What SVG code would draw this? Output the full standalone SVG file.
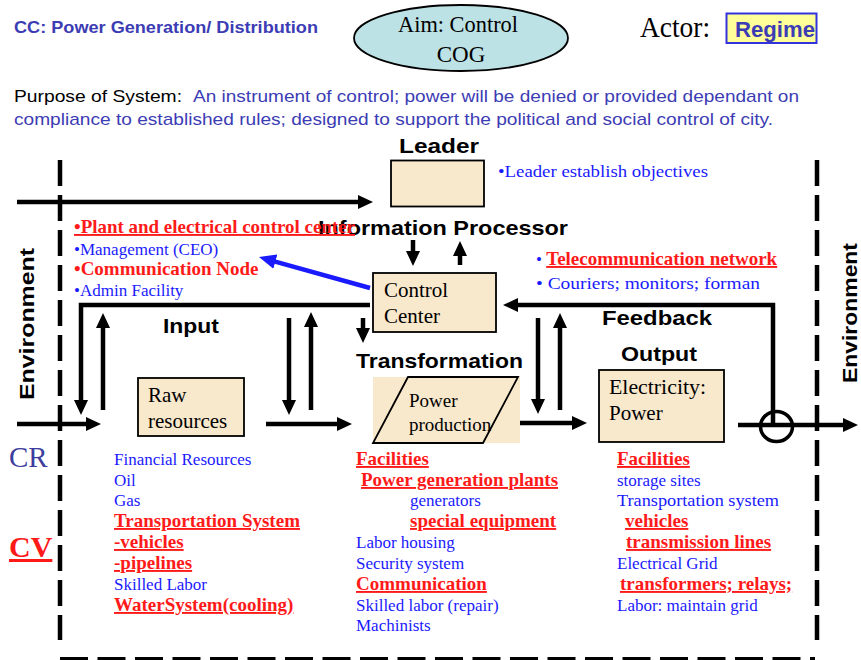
<svg xmlns="http://www.w3.org/2000/svg" width="861" height="660" viewBox="0 0 861 660">
<style>
.sans{font-family:"Liberation Sans",Arial,sans-serif}
.serif{font-family:"Liberation Serif","Times New Roman",serif}
.hd{font-family:"Liberation Sans",Arial,sans-serif;font-weight:bold;font-size:21px;fill:#000}
.box{fill:#f8e8cc;stroke:#000;stroke-width:1.8}
.bt{font-family:"Liberation Serif","Times New Roman",serif;font-size:21px;fill:#000}
.li{font-family:"Liberation Serif","Times New Roman",serif;font-size:17px;fill:#1a1aff}
.lr{font-family:"Liberation Serif","Times New Roman",serif;font-size:19px;fill:#ff1a1a;font-weight:bold;text-decoration:underline}
.ln{fill:none;stroke:#000;stroke-width:4.5}
.dash{fill:none;stroke:#000;stroke-width:4.5;stroke-dasharray:26 9}
.pb{fill:#3c3cb4}
</style>
<defs>
<marker id="ah" viewBox="0 0 15 14" refX="3" refY="7" markerWidth="15" markerHeight="14" markerUnits="userSpaceOnUse" orient="auto"><path d="M0,0 L15,7 L0,14 z" fill="#000"/></marker>
<marker id="ahb" viewBox="0 0 17 15" refX="3" refY="7.5" markerWidth="17" markerHeight="15" markerUnits="userSpaceOnUse" orient="auto"><path d="M0,0 L17,7.5 L0,15 z" fill="#1a1aff"/></marker>
</defs>
<rect width="861" height="660" fill="#fff"/>

<g id="header">
<text class="sans pb" x="14" y="33" font-size="16.5" font-weight="bold" textLength="304" lengthAdjust="spacingAndGlyphs">CC: Power Generation/ Distribution</text>
<g id="aim">
<ellipse cx="461" cy="38" rx="107" ry="33" fill="#bde2e5" stroke="#000" stroke-width="1.8"/>
<text class="serif" x="458" y="32" font-size="23" text-anchor="middle" textLength="120" lengthAdjust="spacingAndGlyphs">Aim: Control</text>
<text class="serif" x="461" y="62" font-size="23" text-anchor="middle">COG</text>
</g>
<g id="actor">
<text class="serif" x="640" y="37" font-size="29" textLength="70" lengthAdjust="spacingAndGlyphs">Actor:</text>
<rect x="726.5" y="13.5" width="90" height="29.5" fill="#ffff99" stroke="#3333dd" stroke-width="2"/>
<text class="sans" x="735" y="37" font-size="22" font-weight="bold" fill="#3c3cb4" textLength="80" lengthAdjust="spacingAndGlyphs">Regime</text>
</g>
<text class="sans" x="14" y="102" font-size="17" fill="#000" textLength="168" lengthAdjust="spacingAndGlyphs">Purpose of System:</text>
<text class="sans pb" x="193" y="102" font-size="17" textLength="606" lengthAdjust="spacingAndGlyphs">An instrument of control; power will be denied or provided dependant  on</text>
<text class="sans pb" x="14" y="125" font-size="17" textLength="759" lengthAdjust="spacingAndGlyphs">compliance to established rules; designed to support the political and social control of city.</text>
</g>

<g id="boundaries">
<path class="dash" d="M60,160 V640"/>
<path class="dash" d="M817,160 V640"/>
<path d="M60,658.5 H815" fill="none" stroke="#000" stroke-width="3" stroke-dasharray="28 9.5"/>
<text class="hd" transform="translate(34,400) rotate(-90)" textLength="152" lengthAdjust="spacingAndGlyphs">Environment</text>
<text class="hd" transform="translate(857,383) rotate(-90)" textLength="140" lengthAdjust="spacingAndGlyphs">Environment</text>
</g>

<g id="connectors">
<path class="ln" d="M17,202 H361" marker-end="url(#ah)"/>
<path class="ln" d="M413,240 V254" marker-end="url(#ah)"/>
<path class="ln" d="M460,265 V253" marker-end="url(#ah)"/>
<path class="ln" d="M370,305 H81 V403" marker-end="url(#ah)"/>
<path class="ln" d="M103,410 V325" marker-end="url(#ah)"/>
<path class="ln" d="M17,424 H89" marker-end="url(#ah)"/>
<path class="ln" d="M266,424 H340" marker-end="url(#ah)"/>
<path class="ln" d="M289,318 V403" marker-end="url(#ah)"/>
<path class="ln" d="M311,410 V324" marker-end="url(#ah)"/>
<path class="ln" d="M363,318 V331" marker-end="url(#ah)"/>
<path class="ln" d="M503,423 H575" marker-end="url(#ah)"/>
<path class="ln" d="M538,318 V402" marker-end="url(#ah)"/>
<path class="ln" d="M560,410 V325" marker-end="url(#ah)"/>
<path class="ln" d="M773,426 V305 H515" marker-end="url(#ah)"/>
<path class="ln" d="M738,425 H846" marker-end="url(#ah)"/>
<path d="M370,288 L272.5,260.8" fill="none" stroke="#1a1aff" stroke-width="4.5" marker-end="url(#ahb)"/>
<ellipse cx="776.5" cy="426.5" rx="16" ry="15" fill="none" stroke="#000" stroke-width="3.5"/>
</g>

<g id="leader">
<text class="hd" x="399" y="153" textLength="80" lengthAdjust="spacingAndGlyphs">Leader</text>
<rect class="box" x="391" y="160.5" width="93" height="46"/>
<text class="li" x="498" y="177" textLength="210" lengthAdjust="spacingAndGlyphs">•Leader establish objectives</text>
</g>

<g id="information-processor">
<text class="hd" x="318" y="235" textLength="250" lengthAdjust="spacingAndGlyphs">Information Processor</text>
</g>

<g id="control-center">
<rect class="box" x="373" y="273" width="123" height="59"/>
<text class="bt" x="384" y="297">Control</text>
<text class="bt" x="384" y="323">Center</text>
</g>

<g id="cc-notes">
<text class="lr" x="74" y="233" textLength="281" lengthAdjust="spacingAndGlyphs">•Plant and electrical control center</text>
<text class="li" x="74" y="255">•Management (CEO)</text>
<text class="lr" x="74" y="275" style="text-decoration:none">•Communication Node</text>
<text class="li" x="74" y="296">•Admin Facility</text>
</g>

<g id="feedback-notes">
<text class="li" x="536" y="265">• <tspan class="lr">Telecommunication network</tspan></text>
<text class="li" x="536" y="289" textLength="224" lengthAdjust="spacingAndGlyphs">• Couriers; monitors;  forman</text>
</g>

<g id="input">
<text class="hd" x="163" y="333" textLength="56" lengthAdjust="spacingAndGlyphs">Input</text>
</g>

<g id="raw-resources">
<rect class="box" x="138" y="378" width="106" height="58"/>
<text class="bt" x="148" y="402">Raw</text>
<text class="bt" x="148" y="428">resources</text>
</g>

<g id="transformation">
<text class="hd" x="356" y="368" textLength="167" lengthAdjust="spacingAndGlyphs">Transformation</text>
<rect x="373" y="377" width="147" height="66" fill="#f8e8cc"/>
<polygon points="408,377 518,377 483,443 373,443" fill="none" stroke="#000" stroke-width="1.8"/>
<text class="bt" x="409" y="407" style="font-size:19px">Power</text>
<text class="bt" x="409" y="431" style="font-size:19px">production</text>
</g>

<g id="output">
<text class="hd" x="602" y="325" textLength="110" lengthAdjust="spacingAndGlyphs">Feedback</text>
<text class="hd" x="621" y="361" textLength="76" lengthAdjust="spacingAndGlyphs">Output</text>
<rect class="box" x="599" y="370" width="125" height="72"/>
<text class="bt" x="609" y="394" textLength="97" lengthAdjust="spacingAndGlyphs">Electricity:</text>
<text class="bt" x="609" y="420">Power</text>
</g>

<g id="cr-cv">
<text class="serif" x="9" y="467" font-size="29" fill="#3d3d9e">CR</text>
<text class="serif" x="9" y="557" font-size="30" font-weight="bold" fill="#ff1a1a" text-decoration="underline">CV</text>
</g>

<g id="input-list">
<text class="li" x="114" y="465">Financial Resources</text>
<text class="li" x="114" y="486">Oil</text>
<text class="li" x="114" y="506">Gas</text>
<text class="lr" x="114" y="527">Transportation System</text>
<text class="lr" x="114" y="548">-vehicles</text>
<text class="lr" x="114" y="569">-pipelines</text>
<text class="li" x="114" y="590">Skilled Labor</text>
<text class="lr" x="114" y="611">WaterSystem(cooling)</text>
</g>

<g id="transformation-list">
<text class="lr" x="356" y="465">Facilities</text>
<text class="lr" x="361" y="486">Power generation plants</text>
<text class="li" x="410" y="506">generators</text>
<text class="lr" x="410" y="527">special equipment</text>
<text class="li" x="356" y="548">Labor housing</text>
<text class="li" x="356" y="569">Security system</text>
<text class="lr" x="356" y="590">Communication</text>
<text class="li" x="356" y="611">Skilled labor (repair)</text>
<text class="li" x="356" y="631">Machinists</text>
</g>

<g id="output-list">
<text class="lr" x="617" y="465">Facilities</text>
<text class="li" x="617" y="486">storage sites</text>
<text class="li" x="617" y="506" textLength="162" lengthAdjust="spacingAndGlyphs">Transportation system</text>
<text class="lr" x="625" y="527">vehicles</text>
<text class="lr" x="626" y="548">transmission lines</text>
<text class="li" x="617" y="569">Electrical Grid</text>
<text class="lr" x="620" y="590">transformers; relays;</text>
<text class="li" x="617" y="611">Labor: maintain grid</text>
</g>
</svg>
